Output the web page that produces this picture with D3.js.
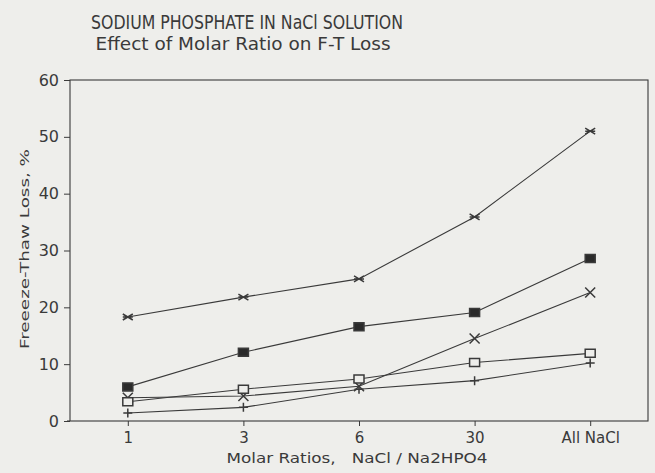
<!DOCTYPE html>
<html>
<head>
<meta charset="utf-8">
<script src="https://cdn.jsdelivr.net/npm/d3@7"></script>
<style>
  body { margin: 0; background: #eeeeeb; }
  text { font-family: "DejaVu Sans", sans-serif; fill: #3a3a3a; }
</style>
</head>
<body>
<div id="chart"></div>
<script>
// data
const ratios = ["1", "3", "6", "30", "All NaCl"];
const yTicks = [0, 10, 20, 30, 40, 50, 60];
const starSeries = [18.3, 21.8, 25.0, 35.9, 51.0];
const filledSquareSeries = [6.0, 12.1, 16.6, 19.1, 28.6];
const crossSeries = [4.1, 4.4, 6.1, 14.5, 22.6];
const openSquareSeries = [3.4, 5.6, 7.4, 10.3, 11.9];
const plusSeries = [1.4, 2.4, 5.6, 7.1, 10.2];

const W = 655, H = 473;
const margin = { top: 80, right: 7, bottom: 52, left: 70 };
const width = W - margin.left - margin.right;
const height = H - margin.top - margin.bottom;
const ink = "#3a3a3a";

const svg = d3.select("#chart")
    .append("svg")
    .attr("width", W)
    .attr("height", H);

const g = svg.append("g")
    .attr("transform", `translate(${margin.left},${margin.top})`);

// scales
const x = d3.scalePoint()
    .domain(ratios)
    .range([0, width])
    .padding(0.5);

const y = d3.scaleLinear()
    .domain([0, 60])
    .range([height, 0]);

// frame
g.append("rect")
    .attr("width", width)
    .attr("height", height)
    .attr("fill", "none")
    .attr("stroke", ink)
    .attr("stroke-width", 1.1);

// axes
const yAxis = g.append("g")
    .call(d3.axisLeft(y).tickValues(yTicks).tickSize(6).tickPadding(5));
yAxis.select(".domain").remove();
yAxis.selectAll("line").attr("stroke", ink);
yAxis.selectAll("text")
    .style("font-size", "16px")
    .attr("fill", "#4a4a4a");

const xAxis = g.append("g")
    .attr("transform", `translate(0,${height})`)
    .call(d3.axisBottom(x).tickSize(5).tickPadding(6));
xAxis.select(".domain").remove();
xAxis.selectAll("line").attr("stroke", ink);
xAxis.selectAll("text")
    .style("font-size", "15px")
    .attr("fill", "#4a4a4a");

// bottom axis runs a little past the left frame
g.append("line")
    .attr("x1", -3).attr("x2", 0)
    .attr("y1", height).attr("y2", height)
    .attr("stroke", ink).attr("stroke-width", 1.1);

// marker shapes
const markers = {
    star: s => `M${-s},${-s*0.6}L${s},${s*0.6}M${-s},${s*0.6}L${s},${-s*0.6}M${-s},0L${s},0`,
    cross: s => `M${-s},${-s}L${s},${s}M${-s},${s}L${s},${-s}`,
    plus: s => `M${-s},0L${s},0M0,${-s}L0,${s}`,
    square: s => `M${-s},${-s*0.8}H${s}V${s*0.8}H${-s}Z`
};

const series = [
    { values: starSeries, shape: "star", size: 5, fill: "none" },
    { values: filledSquareSeries, shape: "square", size: 5, fill: "#2a2a2a" },
    { values: crossSeries, shape: "cross", size: 5, fill: "none" },
    { values: openSquareSeries, shape: "square", size: 5, fill: "#eeeeeb" },
    { values: plusSeries, shape: "plus", size: 4.5, fill: "none" }
];

const line = d3.line()
    .x((d, i) => x(ratios[i]))
    .y(d => y(d));

series.forEach(s => {
    g.append("path")
        .datum(s.values)
        .attr("fill", "none")
        .attr("stroke", ink)
        .attr("stroke-width", 1.1)
        .attr("d", line);
});

series.forEach(s => {
    g.selectAll(null)
        .data(s.values)
        .enter()
        .append("path")
        .attr("transform", (d, i) => `translate(${x(ratios[i])},${y(d)})`)
        .attr("d", markers[s.shape](s.size))
        .attr("fill", s.fill)
        .attr("stroke", ink)
        .attr("stroke-width", 1.5);
});

// titles
svg.append("text")
    .attr("x", 247)
    .attr("y", 29)
    .attr("text-anchor", "middle")
    .attr("textLength", 312)
    .attr("lengthAdjust", "spacingAndGlyphs")
    .style("font-size", "19px")
    .text("SODIUM PHOSPHATE IN NaCl SOLUTION");

svg.append("text")
    .attr("x", 243)
    .attr("y", 50)
    .attr("text-anchor", "middle")
    .attr("textLength", 295)
    .attr("lengthAdjust", "spacingAndGlyphs")
    .style("font-size", "18px")
    .text("Effect of Molar Ratio on F-T Loss");

// axis labels
svg.append("text")
    .attr("transform", "translate(29,249) rotate(-90)")
    .attr("text-anchor", "middle")
    .attr("textLength", 200)
    .attr("lengthAdjust", "spacingAndGlyphs")
    .style("font-size", "13px")
    .text("Freeeze-Thaw Loss,  %");

svg.append("text")
    .attr("x", 357)
    .attr("y", 463)
    .attr("text-anchor", "middle")
    .attr("textLength", 261)
    .attr("lengthAdjust", "spacingAndGlyphs")
    .style("font-size", "14px")
    .style("white-space", "pre")
    .text("Molar Ratios,   NaCl / Na2HPO4");
</script>
</body>
</html>
